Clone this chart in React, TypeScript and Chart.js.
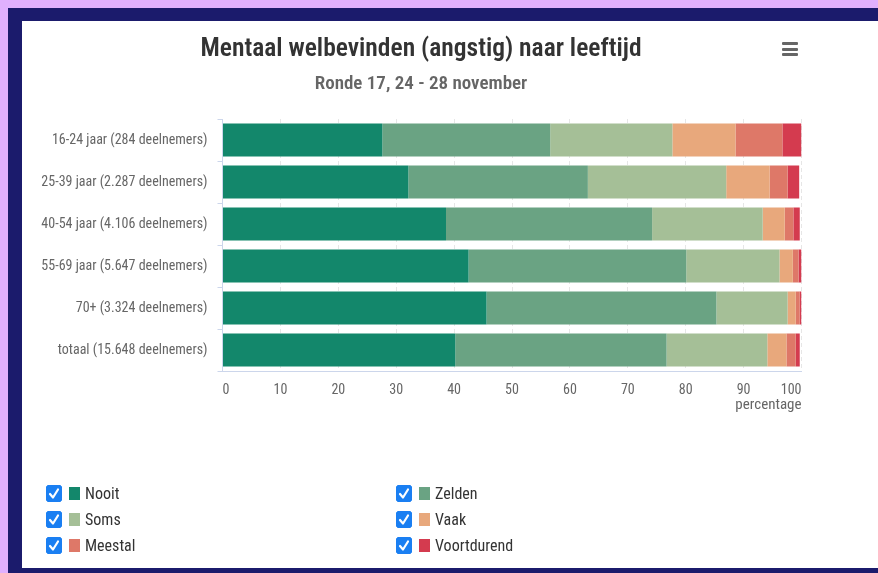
import React, { useEffect, useRef, useState } from "react";
import { Chart, registerables } from "chart.js";

Chart.register(...registerables);

const categories = [
  "16-24 jaar (284 deelnemers)",
  "25-39 jaar (2.287 deelnemers)",
  "40-54 jaar (4.106 deelnemers)",
  "55-69 jaar (5.647 deelnemers)",
  "70+ (3.324 deelnemers)",
  "totaal (15.648 deelnemers)",
];
const seriesNames = ["Nooit", "Zelden", "Soms", "Vaak", "Meestal", "Voortdurend"];
const nooit = [27.6, 32.1, 38.6, 42.5, 45.6, 40.2];
const zelden = [29.0, 31.0, 35.6, 37.6, 39.7, 36.5];
const soms = [21.1, 23.9, 19.1, 16.1, 12.3, 17.4];
const vaak = [10.9, 7.5, 3.8, 2.3, 1.4, 3.3];
const meestal = [8.1, 3.1, 1.5, 1.0, 0.7, 1.6];
const voortdurend = [3.3, 2.0, 1.1, 0.5, 0.3, 0.7];
const seriesColors = ["#13876b", "#6aa383", "#a5bf97", "#e8a87c", "#de7868", "#d43b4f"];
const titleText = "Mentaal welbevinden (angstig) naar leeftijd";
const subtitleText = "Ronde 17, 24 - 28 november";
const axisTitle = "percentage";

const FONT = "'Roboto Condensed', 'DejaVu Sans Condensed', sans-serif";

export default function App() {
  const canvasRef = useRef<HTMLCanvasElement | null>(null);
  const chartRef = useRef<Chart | null>(null);
  const [hidden, setHidden] = useState<boolean[]>(seriesNames.map(() => false));

  useEffect(() => {
    if (!canvasRef.current) return;
    const data = [nooit, zelden, soms, vaak, meestal, voortdurend];
    const chart = new Chart(canvasRef.current, {
      type: "bar",
      data: {
        labels: categories,
        datasets: seriesNames.map((n, i) => ({
          label: n,
          data: data[i],
          backgroundColor: seriesColors[i],
          borderWidth: 0,
          categoryPercentage: 0.79,
          barPercentage: 1,
        })),
      },
      options: {
        indexAxis: "y",
        responsive: false,
        animation: false,
        devicePixelRatio: 1,
        layout: { padding: { left: 18.5, right: 76.5, top: 0, bottom: 152 } },
        font: { family: FONT },
        plugins: {
          legend: { display: false },
          tooltip: { enabled: false },
          title: {
            display: true,
            text: titleText,
            color: "#333333",
            font: { family: FONT, size: 25.5, weight: "600" as any, lineHeight: 1.2 },
            padding: { top: 13.7, bottom: 0 },
          },
          subtitle: {
            display: true,
            text: subtitleText,
            color: "#666666",
            font: { family: FONT, size: 19, weight: "600" as any, lineHeight: 1.2 },
            padding: { top: 7.3, bottom: 23.6 },
          },
        },
        scales: {
          x: {
            stacked: true,
            min: 0,
            max: 100,
            position: "bottom",
            afterFit: (s: any) => {
              s.height = 45;
            },
            ticks: { stepSize: 10, color: "#666666", padding: 11, align: "inner", font: { family: FONT, size: 14 } },
            grid: { color: "#e6e6e6", drawTicks: false, lineWidth: 1 },
            border: { color: "#ccd6eb", dash: [4, 3], width: 1 },
            title: {
              display: true,
              text: axisTitle,
              align: "end",
              color: "#666666",
              font: { family: FONT, size: 15, lineHeight: 1.2 },
              padding: { top: 0, bottom: 2 },
            },
          },
          y: {
            stacked: true,
            afterFit: (s: any) => {
              s.width = 182;
            },
            ticks: { color: "#666666", padding: 10, font: { family: FONT, size: 14 } },
            grid: { drawOnChartArea: false, drawTicks: true, tickLength: 5, color: "#ccd6eb", offset: true },
            border: { color: "#ccd6eb", width: 1 },
          },
        },
      },
    });
    chartRef.current = chart;
    return () => {
      chart.destroy();
      chartRef.current = null;
    };
  }, []);

  const toggle = (i: number) => {
    const ch = chartRef.current;
    if (!ch) return;
    const nh = hidden.slice();
    nh[i] = !nh[i];
    ch.setDatasetVisibility(i, !nh[i]);
    ch.update();
    setHidden(nh);
  };

  const legendItem = (i: number, left: number, top: number) => (
    <div
      key={i}
      onClick={() => toggle(i)}
      style={{ position: "absolute", left, top, height: 18, display: "flex", alignItems: "center", cursor: "pointer" }}
    >
      <svg width="16" height="17" viewBox="0 0 16 17" style={{ display: "block" }}>
        <rect x="0" y="0" width="16" height="17" rx="4" fill={hidden[i] ? "#ffffff" : "#1a7ff2"} stroke="#1a7ff2" />
        {!hidden[i] && <path d="M4 9 L7 12.5 L12 4.5" stroke="#fff" strokeWidth="2.2" fill="none" strokeLinecap="round" strokeLinejoin="round" />}
      </svg>
      <span style={{ display: "inline-block", width: 11, height: 13, background: seriesColors[i], marginLeft: 7 }} />
      <span style={{ marginLeft: 5, fontFamily: FONT, fontSize: 16, color: hidden[i] ? "#cccccc" : "#333333" }}>{seriesNames[i]}</span>
    </div>
  );

  return (
    <div style={{ position: "fixed", inset: 0, background: "#e0b0fe" }}>
      <div style={{ position: "absolute", left: 8, top: 8, right: 0, bottom: 0, background: "#1b1b6c" }} />
      <div style={{ position: "absolute", left: 22, top: 21, width: 856, height: 547, background: "#ffffff" }}>
        <canvas ref={canvasRef} width={856} height={547} style={{ display: "block", width: 856, height: 547 }} />
        <div style={{ position: "absolute", left: 760, top: 21 }}>
          {[0, 1, 2].map((k) => (
            <div key={k} style={{ position: "absolute", left: 0, top: k * 5.5, width: 16, height: 3, background: "#666666", borderRadius: 1 }} />
          ))}
        </div>
        {legendItem(0, 24, 463)}
        {legendItem(1, 374, 463)}
        {legendItem(2, 24, 489)}
        {legendItem(3, 374, 489)}
        {legendItem(4, 24, 515)}
        {legendItem(5, 374, 515)}
      </div>
    </div>
  );
}
